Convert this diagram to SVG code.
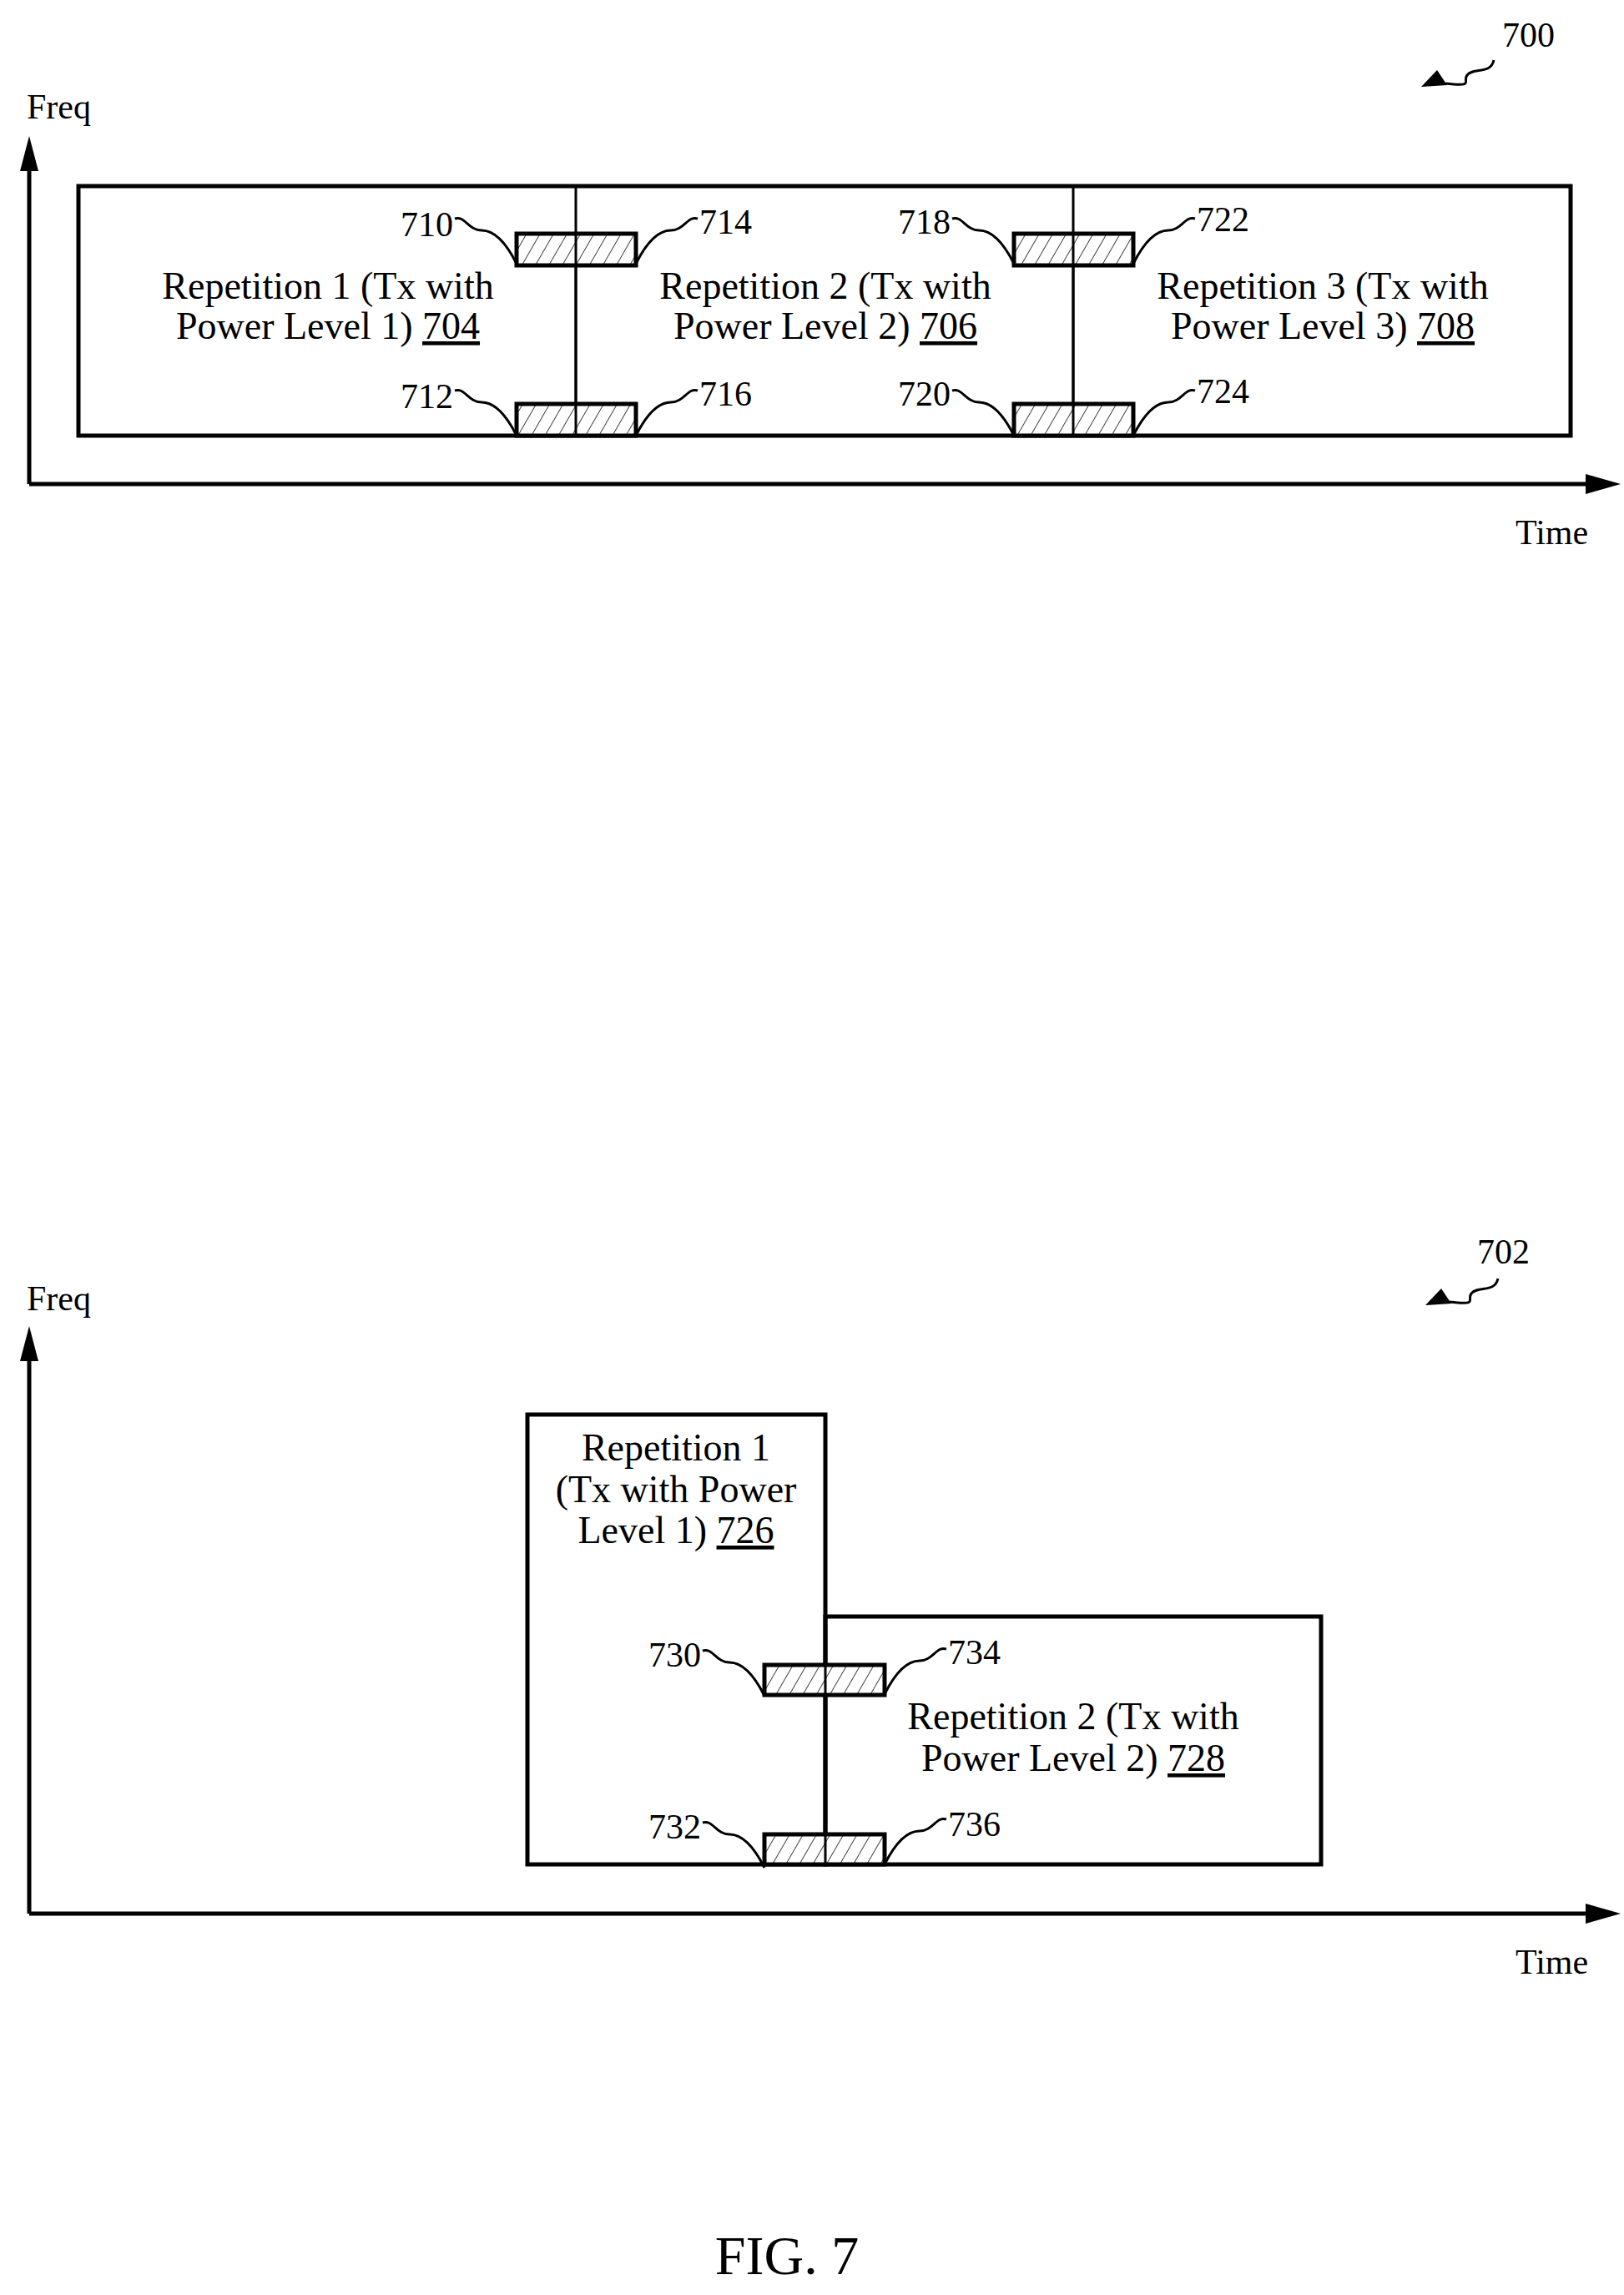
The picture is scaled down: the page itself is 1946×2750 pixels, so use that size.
<svg xmlns="http://www.w3.org/2000/svg" width="1946" height="2750" viewBox="0 0 1946 2750">
<style>
text{font-family:"Liberation Serif","Times New Roman",serif;fill:#000}
.lb{font-size:42px}
.rp{font-size:46px;text-anchor:middle}
.u{text-decoration:underline}
.ax{stroke:#000;stroke-width:5;fill:none}
.bx{stroke:#000;stroke-width:5;fill:none}
.th{stroke:#000;stroke-width:3;fill:none}
.ld{stroke:#000;stroke-width:3;fill:none}
.hb{stroke:#000;stroke-width:5;fill:url(#hatch)}
</style>
<defs>
<pattern id="hatch" patternUnits="userSpaceOnUse" width="14" height="14" patternTransform="rotate(30)">
<rect width="14" height="14" fill="#fff"/>
<line x1="0" y1="0" x2="0" y2="14" stroke="#000" stroke-width="1.5"/>
</pattern>
</defs>
<g id="axes-top">
<text class="lb" x="32" y="142">Freq</text>
<path class="ax" d="M35,580 V195 M35,580 H1910"/>
<polygon points="35,163 24,205 46,205"/>
<polygon points="1942,580 1900,568 1900,592"/>
<text class="lb" x="1816" y="652">Time</text>
</g>
<g id="label-700">
<text class="lb" x="1800" y="56">700</text>
<path class="ld" d="M1790,72 c-4,18 -24,8 -32,18 c-6,8 10,14 -26,10"/>
<polygon points="1703,104 1722,84 1734,102"/>
</g>
<g id="frame-top">
<rect class="bx" x="94" y="223" width="1788" height="299"/>
<line class="th" x1="690" y1="223" x2="690" y2="522"/>
<line class="th" x1="1286" y1="223" x2="1286" y2="522"/>
</g>
<g id="rep-704"><text class="rp" x="393" y="358">Repetition 1 (Tx with</text><text class="rp" x="393" y="406">Power Level 1) <tspan class="u">704</tspan></text></g>
<g id="rep-706"><text class="rp" x="989" y="358">Repetition 2 (Tx with</text><text class="rp" x="989" y="406">Power Level 2) <tspan class="u">706</tspan></text></g>
<g id="rep-708"><text class="rp" x="1585" y="358">Repetition 3 (Tx with</text><text class="rp" x="1585" y="406">Power Level 3) <tspan class="u">708</tspan></text></g>
<g id="boxes-top">
<rect class="hb" x="619" y="280" width="143" height="38"/>
<rect class="hb" x="619" y="484" width="143" height="38"/>
<rect class="hb" x="1215" y="280" width="143" height="38"/>
<rect class="hb" x="1215" y="484" width="143" height="38"/>
<line class="th" x1="690" y1="280" x2="690" y2="522"/>
<line class="th" x1="1286" y1="280" x2="1286" y2="522"/>
</g>
<g id="connectors">
<path class="ld" d="M545,262 c12,-4 16,14 32,14 c18,0 32,20 42,40"/>
<path class="ld" d="M762,316 c10,-20 24,-40 42,-40 c16,0 20,-18 32,-14"/>
<path class="ld" d="M545,468 c12,-4 16,14 32,14 c18,0 32,20 42,40"/>
<path class="ld" d="M762,522 c10,-20 24,-40 42,-40 c16,0 20,-18 32,-14"/>
<path class="ld" d="M1141,262 c12,-4 16,14 32,14 c18,0 32,20 42,40"/>
<path class="ld" d="M1358,316 c10,-20 24,-40 42,-40 c16,0 20,-18 32,-14"/>
<path class="ld" d="M1141,468 c12,-4 16,14 32,14 c18,0 32,20 42,40"/>
<path class="ld" d="M1358,522 c10,-20 24,-40 42,-40 c16,0 20,-18 32,-14"/>
<path class="ld" d="M842,1978 c12,-4 16,14 32,14 c18,0 32,20 42,40"/>
<path class="ld" d="M1060,2030 c10,-20 24,-40 42,-40 c16,0 20,-18 32,-14"/>
<path class="ld" d="M842,2184 c12,-4 16,14 32,14 c18,0 32,20 42,40"/>
<path class="ld" d="M1060,2234 c10,-20 24,-40 42,-40 c16,0 20,-18 32,-14"/>
</g>
<g id="labels-top">
<text class="lb" x="543" y="283" text-anchor="end">710</text>
<text class="lb" x="838" y="280">714</text>
<text class="lb" x="543" y="489" text-anchor="end">712</text>
<text class="lb" x="838" y="486">716</text>
<text class="lb" x="1139" y="280" text-anchor="end">718</text>
<text class="lb" x="1434" y="277">722</text>
<text class="lb" x="1139" y="486" text-anchor="end">720</text>
<text class="lb" x="1434" y="483">724</text>
</g>
<g id="axes-bottom">
<text class="lb" x="32" y="1570">Freq</text>
<path class="ax" d="M35,2293 V1625 M35,2293 H1910"/>
<polygon points="35,1589 24,1631 46,1631"/>
<polygon points="1942,2293 1900,2281 1900,2305"/>
<text class="lb" x="1816" y="2365">Time</text>
</g>
<g id="label-702">
<text class="lb" x="1770" y="1514">702</text>
<path class="ld" d="M1795,1532 c-4,18 -24,8 -32,18 c-6,8 10,14 -26,10"/>
<polygon points="1708,1564 1727,1544 1739,1562"/>
</g>
<g id="rep-726">
<rect class="bx" x="632" y="1695" width="357" height="539"/>
<text class="rp" x="810" y="1750">Repetition 1</text>
<text class="rp" x="810" y="1800">(Tx with Power</text>
<text class="rp" x="810" y="1849">Level 1) <tspan class="u">726</tspan></text>
</g>
<g id="rep-728">
<rect class="bx" x="989" y="1937" width="594" height="297"/>
<text class="rp" x="1286" y="2072">Repetition 2 (Tx with</text>
<text class="rp" x="1286" y="2122">Power Level 2) <tspan class="u">728</tspan></text>
</g>
<g id="boxes-bottom">
<rect class="hb" x="916" y="1995" width="144" height="36"/>
<rect class="hb" x="916" y="2198" width="144" height="36"/>
<line class="th" x1="989" y1="1995" x2="989" y2="2234"/>
<text class="lb" x="840" y="1997" text-anchor="end">730</text>
<text class="lb" x="1136" y="1994">734</text>
<text class="lb" x="840" y="2203" text-anchor="end">732</text>
<text class="lb" x="1136" y="2200">736</text>
</g>
<text x="943" y="2725" font-size="66" text-anchor="middle">FIG. 7</text>
</svg>
